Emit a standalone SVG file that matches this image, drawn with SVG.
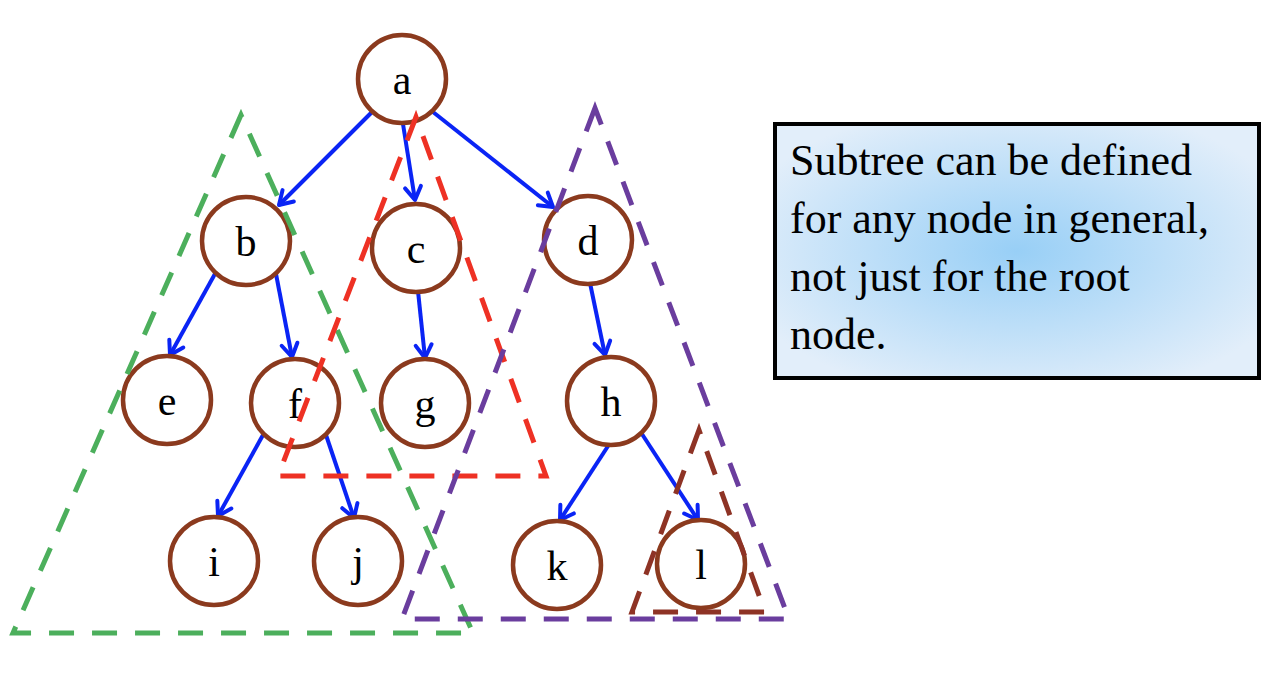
<svg xmlns="http://www.w3.org/2000/svg" width="1266" height="680" viewBox="0 0 1266 680">
<defs>
<marker id="arr" markerUnits="userSpaceOnUse" markerWidth="22" markerHeight="22" viewBox="0 0 22 22" refX="18" refY="11" orient="auto">
<path d="M5,3 L18,11 L5,19" fill="none" stroke="#0a24f5" stroke-width="4" stroke-linecap="round" stroke-linejoin="round"/>
</marker>
<radialGradient id="bg" cx="50%" cy="50%" r="60%">
<stop offset="0" stop-color="#98cff6"/>
<stop offset="1" stop-color="#e2eefa"/>
</radialGradient>
</defs>
<style>
.edge{stroke:#0a24f5;stroke-width:4;fill:none;marker-end:url(#arr)}
.node circle{fill:#fff;stroke:#8b3a1e;stroke-width:4.5}
.node text{font-family:"Liberation Serif",serif;font-size:42px;text-anchor:middle;fill:#000}
.tri{fill:none;stroke-width:5;stroke-dasharray:25 18}
.box{font-family:"Liberation Serif",serif;font-size:44px;fill:#000}
</style>
<rect width="1266" height="680" fill="#fff"/>
<g id="connectors">
<line class="edge" x1="372" y1="112" x2="279" y2="205"/>
<line class="edge" x1="403" y1="124" x2="415" y2="200"/>
<line class="edge" x1="433" y1="112" x2="553" y2="207"/>
<line class="edge" x1="216" y1="272" x2="170" y2="355"/>
<line class="edge" x1="276" y1="274" x2="292" y2="357"/>
<line class="edge" x1="418" y1="291" x2="425" y2="358"/>
<line class="edge" x1="590" y1="283" x2="605" y2="355"/>
<line class="edge" x1="263" y1="435" x2="218" y2="516"/>
<line class="edge" x1="326" y1="435" x2="354" y2="518"/>
<line class="edge" x1="610" y1="443" x2="560" y2="520"/>
<line class="edge" x1="640" y1="431" x2="698" y2="520"/>
</g>
<g id="node-a" class="node"><circle cx="402" cy="79" r="44"/><text x="402" y="94">a</text></g>
<g id="node-b" class="node"><circle cx="246" cy="241" r="44"/><text x="246" y="256">b</text></g>
<g id="node-c" class="node"><circle cx="416" cy="248" r="44"/><text x="416" y="263">c</text></g>
<g id="node-d" class="node"><circle cx="588" cy="240" r="44"/><text x="588" y="255">d</text></g>
<g id="node-e" class="node"><circle cx="167" cy="400" r="44"/><text x="167" y="415">e</text></g>
<g id="node-f" class="node"><circle cx="295" cy="403" r="44"/><text x="295" y="418">f</text></g>
<g id="node-g" class="node"><circle cx="425" cy="403" r="44"/><text x="425" y="418">g</text></g>
<g id="node-h" class="node"><circle cx="611" cy="401" r="44"/><text x="611" y="416">h</text></g>
<g id="node-i" class="node"><circle cx="214" cy="561" r="44"/><text x="214" y="576">i</text></g>
<g id="node-j" class="node"><circle cx="358" cy="561" r="44"/><text x="358" y="576">j</text></g>
<g id="node-k" class="node"><circle cx="557" cy="565" r="44"/><text x="557" y="580">k</text></g>
<g id="node-l" class="node"><circle cx="701" cy="564" r="44"/><text x="701" y="579">l</text></g>
<g id="subtrees">
<polygon class="tri" stroke="#4caf5c" points="241,115 13,633 473,633"/>
<polygon class="tri" stroke="#ee3124" points="416,117 278,476 546,476"/>
<polygon class="tri" stroke="#6a3d9e" points="595,108 402,619 789,619"/>
<polygon class="tri" stroke="#8e3325" points="699,430 632,612 765,612"/>
</g>
<g id="note">
<rect x="775" y="124" width="484" height="254" fill="url(#bg)" stroke="#000" stroke-width="4"/>
<text class="box" x="790" y="175">Subtree can be defined</text>
<text class="box" x="790" y="233">for any node in general,</text>
<text class="box" x="790" y="291">not just for the root</text>
<text class="box" x="790" y="349">node.</text>
</g>
</svg>
